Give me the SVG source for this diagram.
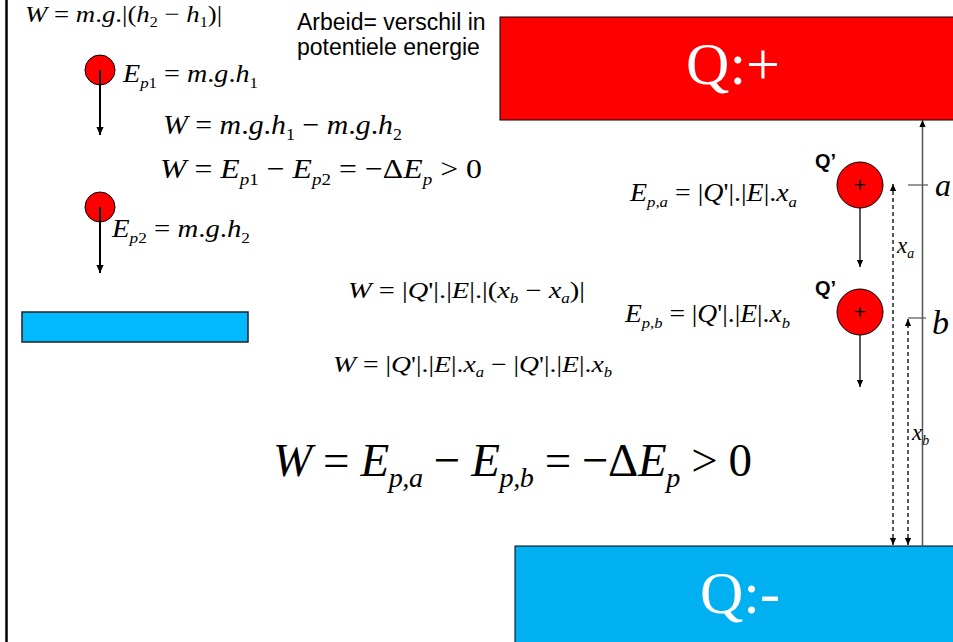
<svg xmlns="http://www.w3.org/2000/svg" width="953" height="642" viewBox="0 0 953 642">
<style>
.m{font-family:"Liberation Serif","Times New Roman",serif;fill:#000}
.i{font-style:italic}
.s{font-size:0.6em}
.lbl{font-family:"Liberation Sans",Arial,sans-serif;fill:#000}
.q{font-family:"Liberation Sans",Arial,sans-serif;font-weight:bold;font-size:20px}
.ball{fill:#FF0000;stroke:#000;stroke-width:1}
.arr{stroke:#000;stroke-width:2;fill:none;marker-end:url(#ah)}
.arr2{stroke:#000;stroke-width:1.3;fill:none;marker-end:url(#ah2)}
.dash{stroke:#000;stroke-width:1.3;fill:none;stroke-dasharray:4 3;marker-start:url(#ah2);marker-end:url(#ah2)}
.big{font-family:"Liberation Serif","Times New Roman",serif;fill:#fff}
</style>
<defs>
<marker id="ah" viewBox="0 0 10 10" refX="10" refY="5" markerUnits="userSpaceOnUse" markerWidth="8" markerHeight="8" orient="auto-start-reverse"><path d="M0,0.5 L10,5 L0,9.5 z" fill="#000"/></marker>
<marker id="ah2" viewBox="0 0 10 10" refX="10" refY="5" markerUnits="userSpaceOnUse" markerWidth="7" markerHeight="7" orient="auto-start-reverse"><path d="M0,0.5 L10,5 L0,9.5 z" fill="#000"/></marker>
</defs>
<rect width="953" height="642" fill="#fff"/>
<line x1="6.5" y1="0" x2="6.5" y2="642" stroke="#000" stroke-width="2.5"/>

<g id="plate-plus">
<rect x="500" y="17" width="460" height="103" fill="#FF0000" stroke="#000" stroke-width="1"/>
<text x="733" y="84" class="big" font-size="60" text-anchor="middle">Q:+</text>
</g>
<g id="plate-minus">
<rect x="515" y="546" width="450" height="100" fill="#00B0F0" stroke="#000" stroke-width="1"/>
<text x="740" y="613" class="big" font-size="60" text-anchor="middle">Q:-</text>
</g>
<g id="ground">
<rect x="22" y="312" width="226" height="30" fill="#00B9FF" stroke="#222" stroke-width="1.5"/>
</g>

<g id="note">
<text class="lbl" font-size="23"><tspan x="297" y="30">Arbeid= verschil in</tspan><tspan x="297" y="55">potentiele energie</tspan></text>
</g>

<g id="ball1"><circle cx="100" cy="70" r="15" class="ball"/></g>
<g id="ball2"><circle cx="100" cy="207" r="15" class="ball"/></g>
<g id="charge-a">
<circle cx="860" cy="185" r="23" class="ball"/>
<text x="860" y="192" class="lbl" font-size="21" text-anchor="middle">+</text>
<text x="815" y="168" class="q">Q’</text>
</g>
<g id="charge-b">
<circle cx="860" cy="312" r="23" class="ball"/>
<text x="860" y="319" class="lbl" font-size="21" text-anchor="middle">+</text>
<text x="815" y="295" class="q">Q’</text>
</g>

<g id="connectors">
<line x1="100" y1="70" x2="100" y2="135" class="arr"/>
<line x1="100" y1="207" x2="100" y2="273" class="arr"/>
<line x1="860" y1="208" x2="860" y2="267" class="arr2"/>
<line x1="860" y1="335" x2="860" y2="387" class="arr2"/>
<line x1="922.5" y1="546" x2="922.5" y2="120" stroke="#555" stroke-width="1.5" marker-end="url(#ah2)"/>
<line x1="908" y1="185" x2="928" y2="185" stroke="#555" stroke-width="1.2"/>
<line x1="908" y1="318" x2="926" y2="318" stroke="#555" stroke-width="1.2"/>
<line x1="893" y1="545" x2="893" y2="184" class="dash"/>
<line x1="908" y1="545" x2="908" y2="319" class="dash"/>
</g>

<g id="labels">
<text x="935" y="196" class="m i" font-size="32">a</text>
<text x="932" y="334" class="m i" font-size="34">b</text>
<text x="897" y="253" class="m" font-size="23"><tspan class="i">x</tspan><tspan class="s i" dy="5">a</tspan></text>
<text x="912" y="440" class="m" font-size="23"><tspan class="i">x</tspan><tspan class="s i" dy="5">b</tspan></text>
</g>

<g id="formulas">
<text x="25" y="22" class="m" font-size="24" textLength="197" lengthAdjust="spacingAndGlyphs"><tspan class="i">W</tspan> = <tspan class="i">m</tspan>.<tspan class="i">g</tspan>.|(<tspan class="i">h</tspan><tspan class="s" dy="5">2</tspan><tspan dy="-5"> − </tspan><tspan class="i">h</tspan><tspan class="s" dy="5">1</tspan><tspan dy="-5">)|</tspan></text>

<text x="123" y="82" class="m" font-size="25" textLength="135" lengthAdjust="spacingAndGlyphs"><tspan class="i">E</tspan><tspan class="s" dy="6"><tspan class="i">p</tspan>1</tspan><tspan dy="-6"> = </tspan><tspan class="i">m</tspan>.<tspan class="i">g</tspan>.<tspan class="i">h</tspan><tspan class="s" dy="6">1</tspan></text>

<text x="163" y="134" class="m" font-size="28" textLength="239" lengthAdjust="spacingAndGlyphs"><tspan class="i">W</tspan> = <tspan class="i">m</tspan>.<tspan class="i">g</tspan>.<tspan class="i">h</tspan><tspan class="s" dy="6">1</tspan><tspan dy="-6"> − </tspan><tspan class="i">m</tspan>.<tspan class="i">g</tspan>.<tspan class="i">h</tspan><tspan class="s" dy="6">2</tspan></text>

<text x="160" y="178" class="m" font-size="28" textLength="322" lengthAdjust="spacingAndGlyphs"><tspan class="i">W</tspan> = <tspan class="i">E</tspan><tspan class="s" dy="7"><tspan class="i">p</tspan>1</tspan><tspan dy="-7"> − </tspan><tspan class="i">E</tspan><tspan class="s" dy="7"><tspan class="i">p</tspan>2</tspan><tspan dy="-7"> = −Δ</tspan><tspan class="i">E</tspan><tspan class="s i" dy="7">p</tspan><tspan dy="-7"> &gt; 0</tspan></text>

<text x="112" y="237" class="m" font-size="25" textLength="138" lengthAdjust="spacingAndGlyphs"><tspan class="i">E</tspan><tspan class="s" dy="6"><tspan class="i">p</tspan>2</tspan><tspan dy="-6"> = </tspan><tspan class="i">m</tspan>.<tspan class="i">g</tspan>.<tspan class="i">h</tspan><tspan class="s" dy="6">2</tspan></text>

<text x="348" y="298" class="m" font-size="23" textLength="237" lengthAdjust="spacingAndGlyphs"><tspan class="i">W</tspan> = |<tspan class="i">Q</tspan>'|.|<tspan class="i">E</tspan>|.|(<tspan class="i">x</tspan><tspan class="s i" dy="5">b</tspan><tspan dy="-5"> − </tspan><tspan class="i">x</tspan><tspan class="s i" dy="5">a</tspan><tspan dy="-5">)|</tspan></text>

<text x="333" y="372" class="m" font-size="23" textLength="279" lengthAdjust="spacingAndGlyphs"><tspan class="i">W</tspan> = |<tspan class="i">Q</tspan>'|.|<tspan class="i">E</tspan>|.<tspan class="i">x</tspan><tspan class="s i" dy="5">a</tspan><tspan dy="-5"> − |</tspan><tspan class="i">Q</tspan>'|.|<tspan class="i">E</tspan>|.<tspan class="i">x</tspan><tspan class="s i" dy="5">b</tspan></text>

<text x="630" y="201" class="m" font-size="25" textLength="167" lengthAdjust="spacingAndGlyphs"><tspan class="i">E</tspan><tspan class="s i" dy="6">p,a</tspan><tspan dy="-6"> = |</tspan><tspan class="i">Q</tspan>'|.|<tspan class="i">E</tspan>|.<tspan class="i">x</tspan><tspan class="s i" dy="6">a</tspan></text>

<text x="625" y="322" class="m" font-size="25" textLength="165" lengthAdjust="spacingAndGlyphs"><tspan class="i">E</tspan><tspan class="s i" dy="6">p,b</tspan><tspan dy="-6"> = |</tspan><tspan class="i">Q</tspan>'|.|<tspan class="i">E</tspan>|.<tspan class="i">x</tspan><tspan class="s i" dy="6">b</tspan></text>

<text x="273" y="476" class="m" font-size="47" textLength="479" lengthAdjust="spacing"><tspan class="i">W</tspan> = <tspan class="i">E</tspan><tspan class="s i" dy="11">p,a</tspan><tspan dy="-11"> − </tspan><tspan class="i">E</tspan><tspan class="s i" dy="11">p,b</tspan><tspan dy="-11"> = −Δ</tspan><tspan class="i">E</tspan><tspan class="s i" dy="11">p</tspan><tspan dy="-11"> &gt; 0</tspan></text>
</g>
</svg>
